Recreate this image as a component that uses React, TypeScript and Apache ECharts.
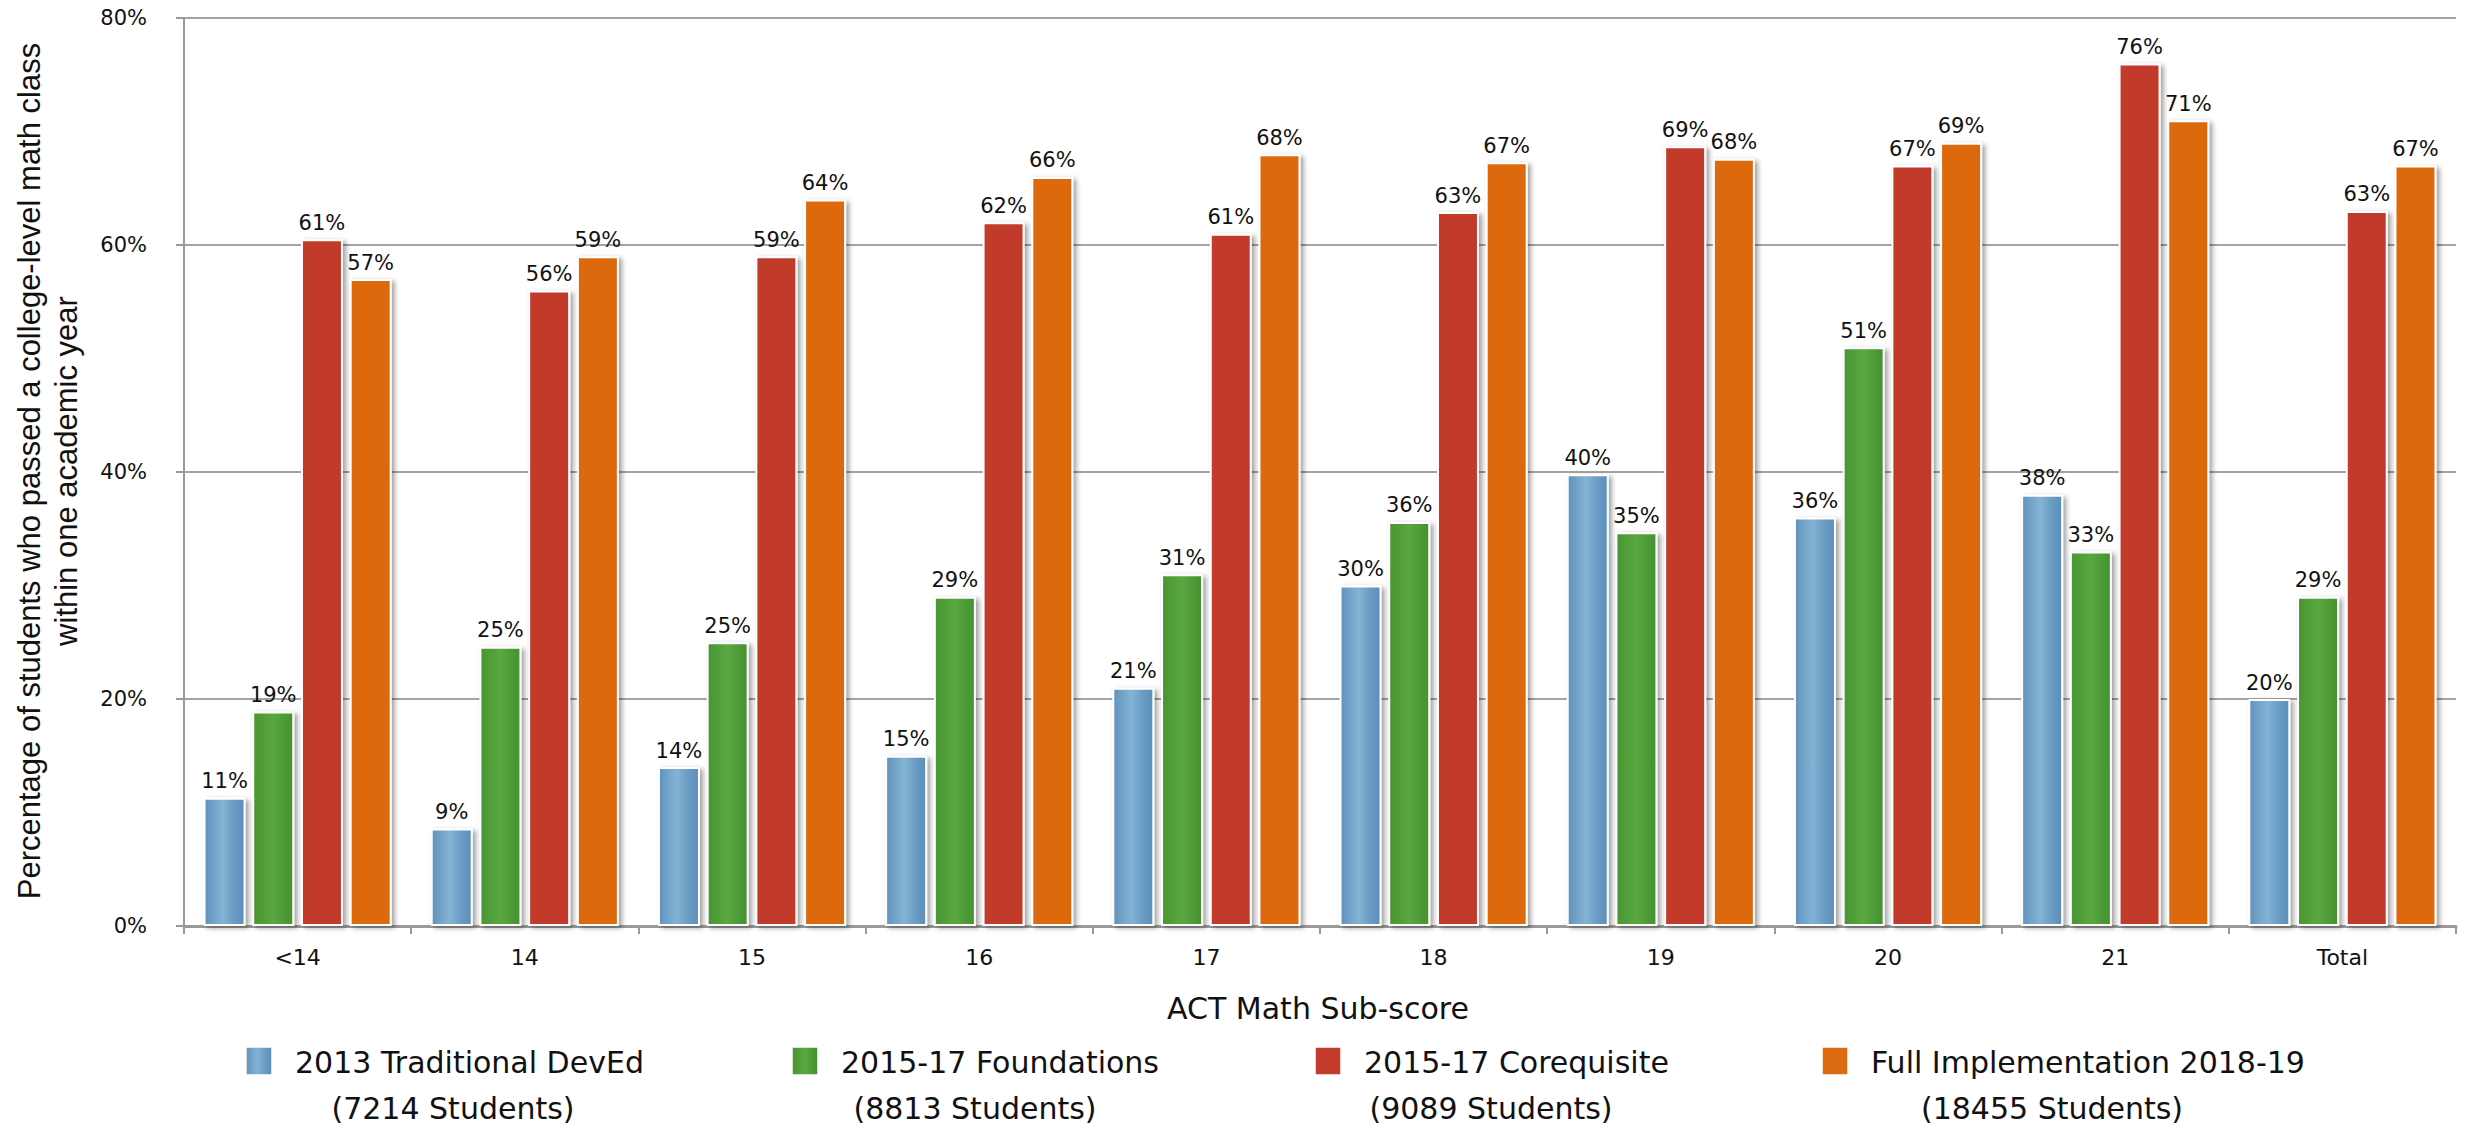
import React, { useEffect, useRef } from 'react';
import * as echarts from 'echarts';

const categories = ['<14', '14', '15', '16', '17', '18', '19', '20', '21', 'Total'];
const traditional = [11.3, 8.6, 14, 15, 21, 30, 39.8, 36, 38, 20];
const foundations = [18.9, 24.6, 25, 29, 31, 35.6, 34.7, 51, 33, 29];
const corequisite = [60.5, 56, 59, 62, 61, 62.9, 68.7, 67, 76, 63];
const fullImplementation = [57, 59, 64, 66, 68, 67.3, 67.6, 69, 71, 67];

const seriesNames = [
  '2013 Traditional DevEd',
  '2015-17 Foundations',
  '2015-17 Corequisite',
  'Full Implementation 2018-19',
];
const studentCounts = ['(7214 Students)', '(8813 Students)', '(9089 Students)', '(18455 Students)'];
const yAxisTitle = 'Percentage of students who passed a college-level math class\nwithin one academic year';
const xAxisTitle = 'ACT Math Sub-score';

const fills: any[] = [
  {
    type: 'linear', x: 0, y: 0, x2: 1, y2: 0,
    colorStops: [
      { offset: 0, color: '#5f92bd' },
      { offset: 0.45, color: '#85b3d4' },
      { offset: 0.7, color: '#6c9fc6' },
      { offset: 1, color: '#5a8dba' },
    ],
  },
  {
    type: 'linear', x: 0, y: 0, x2: 1, y2: 0,
    colorStops: [
      { offset: 0, color: '#4a9433' },
      { offset: 0.5, color: '#58a83f' },
      { offset: 1, color: '#468f31' },
    ],
  },
  '#c23b2b',
  '#dc6a11',
];

export default function App() {
  const ref = useRef<HTMLDivElement>(null);
  useEffect(() => {
    const chart = echarts.init(ref.current!, undefined, { renderer: 'svg' });
    const dataSets = [traditional, foundations, corequisite, fullImplementation];

    const series = dataSets.map((d, i) => ({
      type: 'bar',
      name: seriesNames[i],
      data: d,
      barWidth: 42,
      barGap: '16%',
      itemStyle: {
        color: fills[i],
        borderColor: '#ffffff',
        borderWidth: 2,
        shadowColor: 'rgba(0,0,0,0.38)',
        shadowBlur: 5,
        shadowOffsetX: 3,
        shadowOffsetY: 2,
      },
      label: {
        show: true,
        position: 'top',
        distance: 6,
        formatter: (p: any) => Math.round(p.value) + '%',
        fontFamily: 'DejaVu Sans',
        fontSize: 21,
        color: '#111',
      },
    }));

    const iconX = [246, 792, 1315, 1822];
    const subCenter = [453, 975, 1491, 2052];
    const legendGraphics: any[] = [];
    seriesNames.forEach((n, i) => {
      legendGraphics.push({
        type: 'rect',
        shape: { x: iconX[i], y: 1047, width: 26, height: 28 },
        style: { fill: fills[i], stroke: '#ffffff', lineWidth: 1.5 },
      });
      legendGraphics.push({
        type: 'text',
        x: iconX[i] + 49,
        y: 1062,
        style: {
          text: n,
          fontFamily: 'DejaVu Sans',
          fontSize: 30,
          fill: '#111',
          align: 'left',
          verticalAlign: 'middle',
        },
      });
      legendGraphics.push({
        type: 'text',
        x: subCenter[i],
        y: 1108,
        style: {
          text: studentCounts[i],
          fontFamily: 'DejaVu Sans',
          fontSize: 30,
          fill: '#111',
          align: 'center',
          verticalAlign: 'middle',
        },
      });
    });

    const option: any = {
      animation: false,
      backgroundColor: '#ffffff',
      grid: { left: 184, right: 19, top: 18, bottom: 200, containLabel: false },
      xAxis: {
        type: 'category',
        data: categories,
        axisLine: { show: true, lineStyle: { color: '#9a9a9a', width: 3 } },
        axisTick: { show: true, length: 8, lineStyle: { color: '#9a9a9a', width: 2 } },
        axisLabel: { fontFamily: 'DejaVu Sans', fontSize: 22, color: '#111', margin: 20 },
      },
      yAxis: {
        type: 'value',
        min: 0,
        max: 80,
        interval: 20,
        axisLine: { show: true, lineStyle: { color: '#9a9a9a', width: 2 } },
        axisTick: { show: true, length: 8, lineStyle: { color: '#9a9a9a', width: 2 } },
        axisLabel: { formatter: '{value}%', fontFamily: 'DejaVu Sans', fontSize: 21, color: '#111', margin: 37 },
        splitLine: { show: true, lineStyle: { color: '#a3a3a3', width: 2 } },
      },
      series,
      graphic: [
        {
          type: 'text',
          x: 48,
          y: 471,
          rotation: Math.PI / 2,
          style: {
            text: yAxisTitle,
            fontFamily: 'Liberation Sans',
            fontSize: 31,
            lineHeight: 37,
            fill: '#111',
            align: 'center',
            verticalAlign: 'middle',
          },
        },
        {
          type: 'text',
          x: 1318,
          y: 1008,
          style: {
            text: xAxisTitle,
            fontFamily: 'DejaVu Sans',
            fontSize: 30,
            fill: '#111',
            align: 'center',
            verticalAlign: 'middle',
          },
        },
        ...legendGraphics,
      ],
    };
    chart.setOption(option);
    return () => chart.dispose();
  }, []);
  return (
    <div
      ref={ref}
      style={{ position: 'fixed', left: 0, top: 0, width: 2475, height: 1126, background: '#fff' }}
    />
  );
}
